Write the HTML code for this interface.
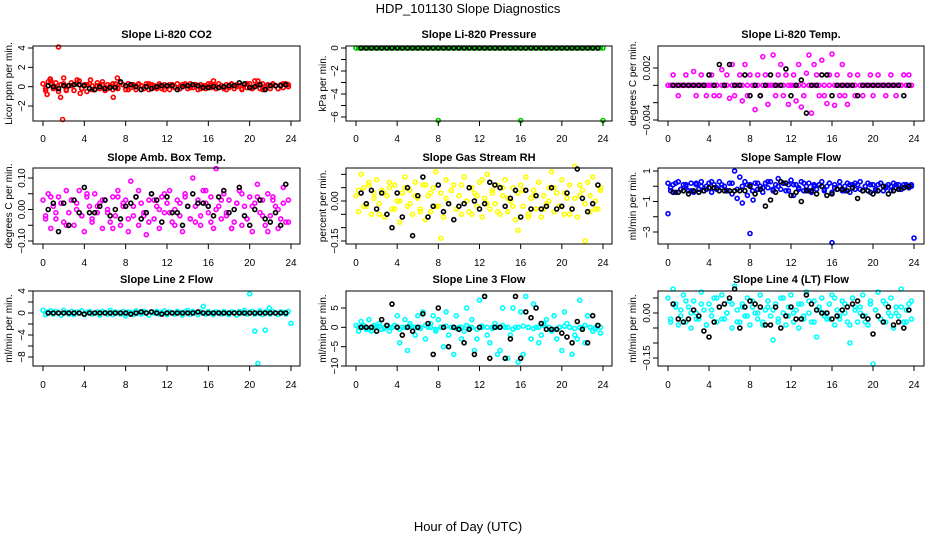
<!DOCTYPE html>
<html><head><meta charset="utf-8"><style>
html,body{margin:0;padding:0;background:#fff;}
svg{display:block;font-family:"Liberation Sans",Arial,sans-serif;}
</style></head><body>
<svg id="chart" width="936" height="540" viewBox="0 0 936 540">
<text x="468" y="13" font-size="13" text-anchor="middle">HDP_101130  Slope Diagnostics</text>
<text x="468" y="531" font-size="13" text-anchor="middle">Hour of Day (UTC)</text>
</svg>
<script>
// ---------- data ----------
const hourTicks = [0,4,8,12,16,20,24];
const denseStep = 0.25;   // colored series sampled every 15 min starting at 0
const blackStart = 0.5, blackStep = 0.5;

const co2Vals = [0.3,-0.4,0.5,0.6,-0.2,0.4,-0.5,0.2,0.3,-0.3,0.1,0.4,-0.4,0.3,0.6,-0.2,0.2,-0.5,0.3,0.1,-0.3,0.4,-0.2,0.5,-0.4,0.2,0.1,-0.3,0.3,-0.2,0.4,0.2,-0.3,0.3,-0.1,0.2,-0.3,0.3,0.1,-0.2,0.3,-0.3,0.2,0.1,-0.2,0.3,-0.2,0.2,0.1,-0.3,0.2,-0.1,0.3,-0.2,0.2,0.1,-0.2,0.3,-0.1,0.2,-0.3,0.2,0.1,-0.2,0.3,-0.1,0.2,-0.2,0.3,0.1,-0.2,0.2,-0.1,0.3,-0.2,0.2,0.1,-0.3,0.2,-0.1,0.3,-0.2,0.6,0.1,-0.2,0.3,-0.1,0.2,-0.2,0.3,0.1,-0.2,0.2,-0.1,0.3,0.2];
const co2Vals2 = [-0.2,0.3,-0.1,0.2,-0.4,0.1,0.3,-0.2,0.2,-0.3,0.1,0.2,-0.2,0.3,-0.1,0.2,-0.3,0.1,0.2,-0.2,0.3,-0.1,0.1,-0.3,0.2,0,-0.2,0.3,-0.1,0.2,-0.2,0.1,0.3,-0.2,0.1,-0.3,0.2,0,-0.2,0.3,-0.1,0.2,-0.3,0.1,0.2,-0.2,0.3,0];
const co2OutHours = [1.5,1.9,1.7,0.4,0.7,2.0,3.3,3.6,4.6,7.2,6.8,16.5,20.8];
const co2OutVals = [4.1,-3.4,-1.1,-0.8,0.8,0.9,0.7,-0.7,0.7,0.9,-1.1,0.6,0.6];
const co2Black = [0.1,0,-0.2,0.1,0.1,0.2,0.2,0.1,-0.2,-0.3,0,-0.2,-0.1,-0.1,0.5,0.1,0.2,0,-0.3,0,-0.2,0,0.1,0.1,0.1,-0.3,0,0.1,0.2,0.1,-0.1,-0.1,0,-0.1,0,0.1,0.1,0.4,0.3,-0.1,0,0.2,-0.3,0.1,0.1,0.1,0.2];

const presVals = [0,0,0,0,0,0,0,0,0,0,0,0,0,0,0,0,0,0,0,0,0,0,0,0,0,0,0,0,0,0,0,0,0,0,0,0,0,0,0,0,0,0,0,0,0,0,0,0,0,0,0,0,0,0,0,0,0,0,0,0,0,0,0,0,0,0,0,0,0,0,0,0,0,0,0,0,0,0,0,0,0,0,0,0,0,0,0,0,0,0,0,0,0,0,0,0];
const presOutHours = [8,16,24,24];
const presOutVals = [-6.3,-6.3,-6.3,0];
const presBlack = [0,0,0,0,0,0,0,0,0,0,0,0,0,0,0,0,0,0,0,0,0,0,0,0,0,0,0,0,0,0,0,0,0,0,0,0,0,0,0,0,0,0,0,0,0,0,0];

const tempVals = [0,0,1.2,0,-1.2,0,0,1.2,0,0,1.6,-1.2,0,1.2,0,-1.2,0,1.2,-1.2,0,-1.2,1.8,0,1.2,-1.5,2.4,-1.2,0,1.2,-1.8,2.4,-1.2,1.2,0,-2.8,1.2,-1.2,3.3,1.2,-2.2,0,3.5,-1.2,1.2,2.4,-1.2,1.2,-2.2,0,1.2,-1.8,2.4,-2.5,-1.2,1.4,3.5,-3.2,2.4,1.2,-1.2,2.9,-1.2,-2.1,1.2,3.6,-2.3,1.2,-1.2,2.4,-1.2,-2.2,1.2,0,-1.2,1.2,0,-1.2,0,0,1.2,-1.2,0,1.2,0,0,-1.2,0,1.2,0,-1.2,0,0,1.2,0,1.2,0];
const tempBand = [0,0,0,0,0,0,0,0,0,0,0,0,0,0,0,0,0,0,0,0,0,0,0,0,0,0,0,0,0,0,0,0,0,0,0,0,0,0,0,0,0,0,0,0,0,0,0,0];
const tempBlack = [0,0,0,0,0,0,0,1.2,0,2.4,0,2.4,0,0,1.2,-1.2,0,-1.2,0,1.2,0,0,1.9,-1.2,0,0.6,-3.2,0,0,1.2,1.2,-1.2,0,0,0,0,-1.2,0,0,0,0,0,0,0,0,-1.2,0];

const ambVals = [3,-2,5,-6,1,-3,4,2,-4,6,-1,3,-5,2,6,-2,-7,4,1,-3,5,-1,2,-6,3,0,-4,4,-2,6,-5,1,3,-7,9,-2,4,-5,2,-1,-8,3,5,-3,1,-6,4,-1,2,6,-4,0,3,-2,-7,5,1,-3,10,-4,3,-5,6,2,-1,4,-6,13,1,-3,5,-2,3,-6,-4,2,6,-5,1,-3,4,-7,2,8,-1,3,-5,5,-2,4,1,-6,-3,7,-4,3];
const ambVals2 = [-3,4,-1,2,-5,3,0,-2,5,-4,1,3,-1,-6,4,2,-3,1,6,-2,-4,3,0,5,-1,-5,2,4,-3,1,-2,6,-4,0,3,-1,-6,2,5,-3,1,4,-2,-7,3,0,2,-4];
const ambBlack = [0,2,-7,2,-5,3,-1,7,-1,-1,1,3,-2,0,-3,1,2,4,-3,-1,5,3,-4,4,-1,-1,-5,1,5,2,2,1,-2,4,6,-1,0,7,-2,-5,0,3,-3,-4,-1,-5,8];

const rhVals = [2,-4,10,5,-2,7,-5,3,8,-1,4,-6,2,5,-3,6,0,-8,3,9,-2,4,-5,7,1,-3,6,-7,2,-4,5,11,-2,3,-6,8,-1,4,6,-3,2,-5,9,0,-4,5,3,-2,7,-6,1,10,-3,4,-1,6,-5,2,8,-4,0,5,-7,3,6,-2,9,-5,1,4,-3,7,-6,2,-1,5,11,-4,3,-2,8,-5,1,6,-3,13,-6,2,4,-1,7,-4,9,0,-3,5];
const rhVals2 = [4,-2,6,1,-5,3,7,-3,0,5,-1,2,-4,6,3,-2,-14,1,4,-3,6,0,-5,2,8,-1,3,-4,5,1,-2,-11,4,-6,2,7,-3,0,5,-2,3,-5,1,6,-15,2,-3,4];
const rhBlack = [3,-1,4,-3,3,-5,-10,3,-6,5,-13,2,9,-6,-2,6,-4,-1,-7,-2,-1,5,0,-3,-1,7,6,5,-2,1,4,-6,4,-3,2,-3,-2,5,-3,-2,3,-3,12,1,-4,-1,6];

const sampVals = [0.2,-0.3,0.1,-0.4,0.3,-0.2,0.1,0,-0.3,0.2,-0.4,0.1,-0.2,0.3,-0.3,0,0.2,-0.4,0.1,-0.2,0.3,-0.1,0,-0.3,0.2,-0.5,1.0,-0.8,0.6,-1.1,0.3,-0.6,0.1,-0.3,0.2,-0.2,0,-0.4,0.2,-0.1,0.3,-0.3,0.1,0.5,-0.2,0.2,-0.3,0.1,0.4,-0.6,0.1,-0.2,0.3,-0.3,0,0.2,-0.4,0.1,-0.2,0.1,0.3,-0.3,0,0.2,-0.4,0.1,-0.2,0.3,-0.3,0,0.2,-0.4,0.1,-0.2,0.1,0.3,-0.3,0,0.2,-0.4,0.1,-0.2,0.1,0.2,-0.3,0,0.1,-0.3,0.2,-0.1,0.1,-0.2,0.1,0,-0.1,0.1];
const sampVals2 = [-0.1,0.2,-0.2,0.1,-0.3,0.2,0,-0.2,0.3,-0.1,0.1,-0.3,0.2,-0.2,0,0.1,-0.3,0.2,-0.1,0.3,-0.2,0,0.2,-0.3,0.1,-0.1,0.2,-0.3,0,0.1,-0.2,0.2,-0.1,0,-0.3,0.1,0.2,-0.2,0,0.1,-0.3,0.2,-0.1,0,0.1,-0.2,0.1,0];
const sampOutHours = [0,8,16,24,8.3];
const sampOutVals = [-1.8,-3.1,-3.7,-3.4,-0.9];
const sampBlack = [-0.4,-0.4,-0.3,-0.5,-0.3,-0.4,-0.3,-0.1,-0.1,-0.3,-0.3,-0.3,-0.3,-0.3,-0.3,0,-0.5,-0.2,-1.3,-0.9,-0.4,0.3,0.2,-0.6,-0.4,-1,-0.3,-0.3,-0.5,0,-0.6,-0.5,-0.2,-0.2,-0.3,-0.1,-0.8,-0.3,-0.3,-0.5,-0.3,0,-0.5,-0.3,-0.2,-0.1,0];

const l2Vals = [0.5,-0.3,0.2,0.4,-0.2,0.3,0,-0.4,0.5,0.1,-0.2,0.3,-0.3,0.2,0,0.4,-0.3,0.1,0.3,-0.2,0,0.2,-0.4,0.3,0.1,-0.2,0.5,-0.3,0.2,0,-0.2,0.3,-0.5,0.2,0.1,-0.3,0.4,0,-0.2,0.3,0.1,-0.4,0.2,0,0.3,-0.2,0.1,0.4,-0.3,0.2,0,-0.2,0.3,0.1,-0.4,0.2,0.5,-0.2,0.3,0,-0.3,0.2,1.2,-0.2,0.3,0,-0.3,0.2,0.1,-0.2,0.3,0,-0.3,0.2,0.1,-0.4,0.3,0,0.5,-0.2,0.1,0.3,-0.2,0,0.4,-0.3,0.2,0.1,-0.2,0.3,0,-0.3,0.2,0.1,-0.2,0.3];
const l2OutHours = [20,20.5,20.8,21.5,21.9,24];
const l2OutVals = [3.5,-3.3,-9.2,-3.1,0.9,-1.9];
const l2Black = [0,0,0,0,0,0,0,-0.2,0,0,0,0,0,0,0,0,-0.2,0,0.2,0,0.2,0,-0.2,0,0,0,0,0,0,0.2,0,0,0,0,0,0,0,0,0,0,0,0,0,0,0,0,0];

const l3Vals = [0.5,-1,1.5,0,-0.5,2,-1,0.5,0,1,-0.5,0,0.5,-1,0,0.5,3,-4,0,2,-6,1,0,-2,3,0,4,-3,0,1,3,-1,2,0,-5,4,-2,0,-7,3,0,-3,-1,5,0,2,-6,-3,7,0,8,-2,-4,0,1,-7,-6,5,0,-8,-2,5,0,-9,4,-7,8,0,-3,6,0,-4,-2,1,2,0,-1,3,-3,0,-6,4,1,0,-7,-2,-3,7,0,-4,3,0,-1,0,0.5,-1.5];
const l3Band = [0,0.5,-0.5,0,0.3,-0.3,0,0.5,-0.5,0,0.3,0,-0.3,0.5,0,-0.5,0,0.3,0,-0.3,0,0.5,0,-0.5,0.3,0,-0.3,0,0.5,0,-0.5,0,0.3,0,-0.3,0,0.5,0,-0.5,0,0.3,0,-0.3,0,0.5,0,-0.5,0];
const l3Black = [0,0,0,-1,2,0.5,6,0,-2,0,-1,0,3.5,1,-7,5,0,-5,0,-0.5,-4,-0.5,-7,0,8,-8,0,0,-8,-3,8,-8,4,2.5,5,1,-0.5,-0.5,-0.5,-1.5,-2.5,-4,1.5,-0.5,-4,3,0.5];

const l4Vals = [5,-2,8,3,-4,1,6,-3,2,-5,4,0,-2,7,1,-4,3,-1,5,-3,2,6,-2,0,4,-5,9,1,-3,3,-1,5,-4,2,0,-2,6,-3,1,4,-1,-9,3,-2,5,0,-4,2,6,-3,1,-5,3,-1,7,0,-3,4,-8,2,5,-1,-2,3,6,-4,1,-2,4,0,-3,-10,5,1,-3,2,6,-1,-4,3,-17,1,7,-2,4,-3,0,5,-5,2,-1,8,-3,1,3,-2];
const l4Vals2 = [-3,2,-1,4,0,-2,3,-4,1,5,-2,0,3,-3,2,-1,4,0,-4,2,1,-3,5,-1,0,3,-2,4,-3,1,0,-2,5,-1,3,-4,2,0,-3,4,1,-2,3,-1,0,2,-3,4];
const l4Black = [3,-2,-3,-2,1,-1,-6,-8,-3,2,3,5,8,-5,2,4,3,2,-4,-4,2,-5,-1,2,-2,-2,6,3,1,0,0,-2,-1,1,2,3,4,-1,-2,-7,-1,-3,2,-4,-3,-5,1];

// y tick values and printed labels
const co2Ticks = [4,2,0,-2];          const co2TickLabels = ["4","2","0","\u22122"];
const presTicks = [0,-1,-2,-3,-4,-5,-6]; const presTickLabels = ["0","","\u22122","","\u22124","","\u22126"];
const tempTicks = [2,0,-2,-4];        const tempTickLabels = ["0.002","","","\u22120.004"];
const ambTicks = [10,5,0,-5,-10];     const ambTickLabels = ["0.10","","0.00","","\u22120.10"];
const rhTicks = [10,5,0,-5,-10,-15];  const rhTickLabels = ["","","0.00","","","\u22120.15"];
const sampTicks = [1,0,-1,-2,-3];     const sampTickLabels = ["1","","\u22121","","\u22123"];
const l2Ticks = [4,2,0,-2,-4,-6,-8]; const l2TickLabels = ["4","","0","","\u22124","","\u22128"];
const l3Ticks = [5,0,-5,-10];         const l3TickLabels = ["5","0","\u22125","\u221210"];
const l4Ticks = [5,0,-5,-10,-15];     const l4TickLabels = ["","0.00","","","\u22120.15"];

// ---------- layout ----------
const NS = "http://www.w3.org/2000/svg";
const svg = document.getElementById('chart');
const cols = [{l:33,r:300,x0:43,x24:291,yt:12},{l:346,r:612,x0:356,x24:603,yt:326},{l:658,r:924,x0:668,x24:914,yt:636}];
const rows = [{t:46,b:121,title:38,xl:142},{t:168,b:244,title:161,xl:266},{t:291,b:366,title:283,xl:388}];

function el(tag, attrs, parent){
  const e = document.createElementNS(NS, tag);
  for (const k in attrs) e.setAttribute(k, attrs[k]);
  (parent||svg).appendChild(e);
  return e;
}

function panel(ci, ri, name, title, ylab, v1, p1, v2, p2, ticks, tickLabels, series){
  const c = cols[ci], r = rows[ri];
  const g = el('g', {});
  
  
  const sx = h => c.x0 + (h/24)*(c.x24 - c.x0);
  const sy = v => p1 + (v - v1)*(p2 - p1)/(v2 - v1);
  const t = el('text', {x:(c.l+c.r)/2, y:r.title, 'font-size':11, 'font-weight':'bold', 'text-anchor':'middle'}, g);
  t.textContent = title;
  
  
  const yl = el('text', {x:c.yt, y:(r.t+r.b)/2, 'font-size':10, 'text-anchor':'middle', transform:`rotate(-90 ${c.yt} ${(r.t+r.b)/2})`}, g);
  yl.textContent = ylab;
  
  
  series.forEach(s => {
    const sg = el('g', {fill:'none', stroke:s.color, 'stroke-width':1.6}, g);
    
    
    s.vals.forEach((v,i) => {
      const h = s.hours ? s.hours[i] : s.start + i*s.step;
      const cc = el('circle', {cx:sx(h).toFixed(1), cy:sy(v).toFixed(1), r:2.0}, sg);
      
      
    });
  });
  const box = el('rect', {x:c.l, y:r.t, width:c.r-c.l, height:r.b-r.t, fill:'none', stroke:'#000', 'stroke-width':1}, g);
  
  
  const xa = el('g', {stroke:'#000', 'stroke-width':1}, g);
  
  
  el('line', {x1:sx(0), x2:sx(24), y1:r.b, y2:r.b}, xa);
  hourTicks.forEach(h => {
    el('line', {x1:sx(h), x2:sx(h), y1:r.b, y2:r.b+5}, xa);
    const tx = el('text', {x:sx(h), y:r.xl, 'font-size':10, 'text-anchor':'middle', stroke:'none', fill:'#000'}, xa);
    tx.textContent = h;
    
    
  });
  const ya = el('g', {stroke:'#000', 'stroke-width':1}, g);
  
  
  el('line', {x1:c.l, x2:c.l, y1:sy(ticks[0]), y2:sy(ticks[ticks.length-1])}, ya);
  ticks.forEach((v,i) => {
    const y = sy(v);
    el('line', {x1:c.l-5, x2:c.l, y1:y, y2:y}, ya);
    if (tickLabels[i]) {
      const bx = c.l - 8;
      const tt = el('text', {x:bx, y:y, 'font-size':10, 'text-anchor':'middle', stroke:'none', fill:'#000', transform:`rotate(-90 ${bx} ${y})`}, ya);
      tt.textContent = tickLabels[i];
      
      
    }
  });
}

const dense = (vals, color, key) => ({vals, color, key, start:0, step:denseStep});
const densOff = (vals, color, key) => ({vals, color, key, start:0.25, step:0.5});
const blk = vals => ({vals, color:'#000', key:'reference', start:blackStart, step:blackStep});
const pts = (hours, vals, color, key) => ({vals, hours, color, key});

panel(0,0,'co2','Slope Li-820 CO2','Licor ppm per min.',4,48,-2,106,co2Ticks,co2TickLabels,
  [dense(co2Vals,'#ff0000','co2'), densOff(co2Vals2,'#ff0000','co2-2'), pts(co2OutHours,co2OutVals,'#ff0000','co2-outliers'), blk(co2Black)]);
panel(1,0,'pressure','Slope Li-820 Pressure','kPa per min.',0,48,-6,117,presTicks,presTickLabels,
  [dense(presVals,'#00cc00','pressure'), pts(presOutHours,presOutVals,'#00cc00','pressure-outliers'), blk(presBlack)]);
panel(2,0,'licor-temp','Slope Li-820 Temp.','degrees C per min.',2,68,-4,120,tempTicks,tempTickLabels,
  [dense(tempVals,'#ff00ff','temp'), densOff(tempBand,'#ff00ff','temp-band'), blk(tempBlack)]);
panel(0,1,'amb-temp','Slope Amb. Box Temp.','degrees C per min.',10,178,-10,241,ambTicks,ambTickLabels,
  [dense(ambVals,'#ff00ff','amb'), densOff(ambVals2,'#ff00ff','amb-2'), blk(ambBlack)]);
panel(1,1,'rh','Slope Gas Stream RH','percent per min.',0,201,-15,241,rhTicks,rhTickLabels,
  [dense(rhVals,'#ffff00','rh'), densOff(rhVals2,'#ffff00','rh-2'), blk(rhBlack)]);
panel(2,1,'sample-flow','Slope Sample Flow','ml/min per min.',1,171,-3,232,sampTicks,sampTickLabels,
  [dense(sampVals,'#0000ff','sample'), densOff(sampVals2,'#0000ff','sample-2'), pts(sampOutHours,sampOutVals,'#0000ff','sample-outliers'), blk(sampBlack)]);
panel(0,2,'line2','Slope Line 2 Flow','ml/min per min.',4,291,-8,357,l2Ticks,l2TickLabels,
  [dense(l2Vals,'#00ffff','line2'), pts(l2OutHours,l2OutVals,'#00ffff','line2-outliers'), blk(l2Black)]);
panel(1,2,'line3','Slope Line 3 Flow','ml/min per min.',5,308,-10,366,l3Ticks,l3TickLabels,
  [dense(l3Vals,'#00ffff','line3'), densOff(l3Band,'#00ffff','line3-band'), blk(l3Black)]);
panel(2,2,'line4','Slope Line 4 (LT) Flow','ml/min per min.',0,313,-15,358,l4Ticks,l4TickLabels,
  [dense(l4Vals,'#00ffff','line4'), densOff(l4Vals2,'#00ffff','line4-2'), blk(l4Black)]);
</script>
</body></html>
